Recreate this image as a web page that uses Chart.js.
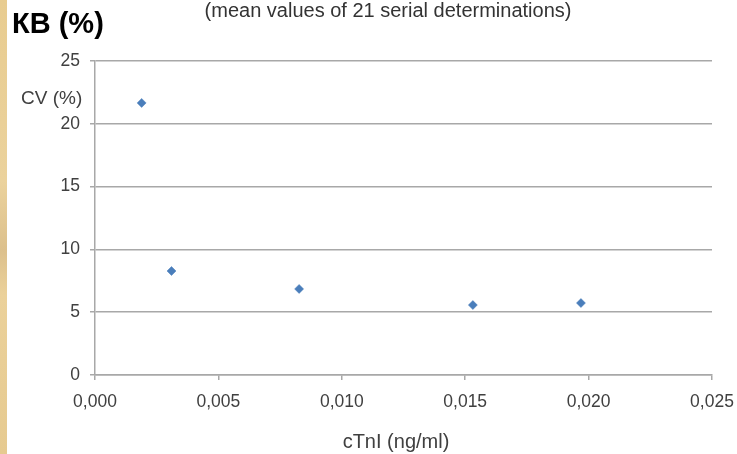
<!DOCTYPE html>
<html>
<head>
<meta charset="utf-8">
<script src="https://cdn.jsdelivr.net/npm/chart.js@4"></script>
<style>
  html, body { margin: 0; padding: 0; background: #fff; }
  #wrap { position: relative; width: 737px; height: 454px; overflow: hidden; background: #fff;
          font-family: 'Liberation Sans', Arial, sans-serif; }
  #strip { position: absolute; left: 0; top: 0; width: 7px; height: 454px;
           background: linear-gradient(to bottom, #e8cc90 0%, #ebd29c 40%, #dcc08c 55%, #ebd19a 65%, #e6ca90 100%); }
  canvas { position: absolute; left: 0; top: 0; }
  .t { position: absolute; white-space: nowrap; }
  #kv { left: 12px; top: 9px; font-size: 29px; line-height: 29px; font-weight: bold; color: #000; }
  #sub { left: 388px; top: 0px; transform: translateX(-50%); font-size: 20px; line-height: 20px; color: #333; }
  #ytitle { left: 21px; top: 88px; font-size: 19px; line-height: 19px; color: #404040; }
  #xtitle { left: 396px; top: 431px; transform: translateX(-50%); font-size: 20px; line-height: 20px; color: #404040; }
</style>
</head>
<body>
<div id="wrap">
  <canvas id="c" width="737" height="454"></canvas>
  <div id="strip"></div>
  <div class="t" id="sub">(mean values of 21 serial determinations)</div>
  <div class="t" id="kv">КВ (%)</div>
  <div class="t" id="ytitle">CV (%)</div>
  <div class="t" id="xtitle">cTnI (ng/ml)</div>
</div>
<script>
const cTnI = [0.00189, 0.0031, 0.00827, 0.01531, 0.01969];
const cvPercent = [21.66, 8.28, 6.85, 5.57, 5.73];
const xTickLabels = ['0,000', '0,005', '0,010', '0,015', '0,020', '0,025'];
const yTickLabels = ['0', '5', '10', '15', '20', '25'];

const points = cTnI.map((x, i) => ({ x: x, y: cvPercent[i] }));

new Chart(document.getElementById('c'), {
  type: 'scatter',
  data: {
    datasets: [{
      data: points,
      pointStyle: 'rectRot',
      pointRadius: 4.5,
      pointHoverRadius: 4.5,
      backgroundColor: '#4a7ebb',
      borderColor: '#4a7ebb',
      borderWidth: 0.5
    }]
  },
  options: {
    responsive: false,
    animation: false,
    devicePixelRatio: 1,
    layout: { padding: { left: 0, right: 25, top: 61, bottom: 0 } },
    plugins: { legend: { display: false }, tooltip: { enabled: false }, title: { display: false } },
    scales: {
      x: {
        type: 'linear',
        min: 0, max: 0.025,
        afterFit: s => { s.height = 79; s.paddingLeft = 0; s.paddingRight = 0; },
        ticks: {
          stepSize: 0.005,
          padding: 12,
          color: '#404040',
          font: { family: "'Liberation Sans', Arial, sans-serif", size: 17.5 },
          maxRotation: 0,
          callback: (v, i) => xTickLabels[i]
        },
        grid: { drawOnChartArea: false, drawTicks: true, tickLength: 5, color: '#a8a8a8', lineWidth: 1.5 },
        border: { display: true, color: '#a8a8a8', width: 1.5 }
      },
      y: {
        type: 'linear',
        min: 0, max: 25,
        afterFit: s => { s.width = 95; s.paddingTop = 0; s.paddingBottom = 0; },
        ticks: {
          stepSize: 5,
          padding: 10,
          color: '#404040',
          font: { family: "'Liberation Sans', Arial, sans-serif", size: 17.5 },
          callback: (v, i) => yTickLabels[i]
        },
        grid: { drawOnChartArea: true, drawTicks: true, tickLength: 5, color: '#a8a8a8', lineWidth: 1.5 },
        border: { display: true, color: '#a8a8a8', width: 1.5 }
      }
    }
  }
});
</script>
</body>
</html>
